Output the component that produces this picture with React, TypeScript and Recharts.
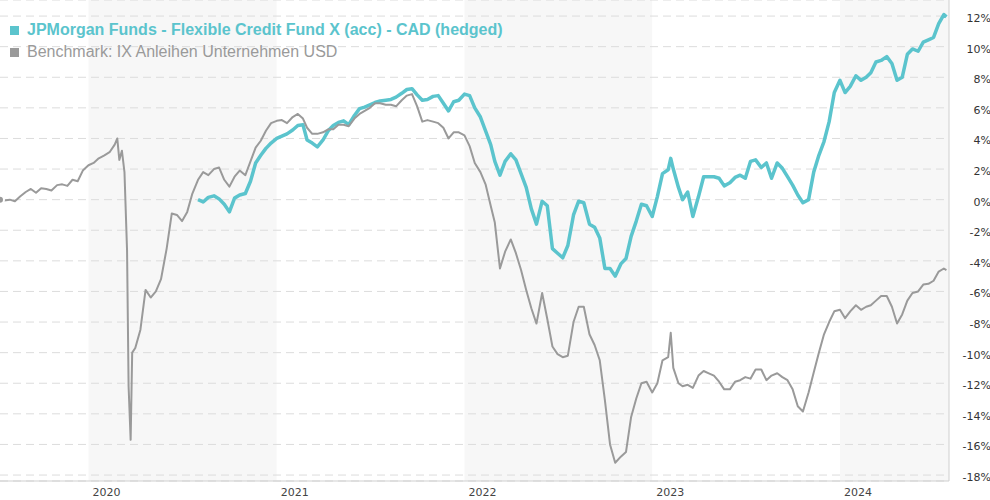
import React from 'react';
import { LineChart, Line, XAxis, YAxis, CartesianGrid, ReferenceArea } from 'recharts';

// sampling dates (roughly 3 per month)
const dates = [
  '2019-07-13', '2019-07-21', '2019-08-01', '2019-08-11', '2019-08-21', '2019-09-01', '2019-09-11', '2019-09-21',
  '2019-10-01', '2019-10-11', '2019-10-21', '2019-11-01', '2019-11-11', '2019-11-21', '2019-12-01', '2019-12-11', '2019-12-21',
  '2020-01-01', '2020-01-11', '2020-01-21', '2020-02-01', '2020-02-11', '2020-02-21', '2020-02-26', '2020-03-01',
  '2020-03-06', '2020-03-11', '2020-03-16', '2020-03-19', '2020-03-23', '2020-03-26', '2020-04-01', '2020-04-11',
  '2020-04-21', '2020-05-01', '2020-05-11', '2020-05-21', '2020-06-01', '2020-06-11', '2020-06-21', '2020-07-01',
  '2020-07-11', '2020-07-21', '2020-08-01', '2020-08-11', '2020-08-21', '2020-09-01', '2020-09-11', '2020-09-21',
  '2020-10-01', '2020-10-11', '2020-10-21', '2020-11-01', '2020-11-11', '2020-11-21', '2020-12-01', '2020-12-11', '2020-12-21',
  '2021-01-01', '2021-01-11', '2021-01-21', '2021-02-01', '2021-02-11', '2021-02-21', '2021-03-01', '2021-03-11', '2021-03-21',
  '2021-04-01', '2021-04-11', '2021-04-21', '2021-05-01', '2021-05-11', '2021-05-21', '2021-06-01', '2021-06-11', '2021-06-21',
  '2021-07-01', '2021-07-11', '2021-07-21', '2021-08-01', '2021-08-11', '2021-08-21', '2021-09-01', '2021-09-11', '2021-09-21',
  '2021-10-01', '2021-10-11', '2021-10-21', '2021-11-01', '2021-11-11', '2021-11-21', '2021-12-01', '2021-12-11', '2021-12-21',
  '2022-01-01', '2022-01-11', '2022-01-21', '2022-02-01', '2022-02-11', '2022-02-21', '2022-03-01', '2022-03-11', '2022-03-21',
  '2022-04-01', '2022-04-11', '2022-04-21', '2022-05-01', '2022-05-11', '2022-05-21', '2022-06-01', '2022-06-11', '2022-06-21',
  '2022-07-01', '2022-07-11', '2022-07-21', '2022-08-01', '2022-08-11', '2022-08-21', '2022-09-01', '2022-09-11', '2022-09-21',
  '2022-10-01', '2022-10-11', '2022-10-21', '2022-11-01', '2022-11-11', '2022-11-21', '2022-12-01', '2022-12-11', '2022-12-21',
  '2023-01-01', '2023-01-11', '2023-01-21', '2023-02-01', '2023-02-06', '2023-02-11', '2023-02-21', '2023-03-01', '2023-03-11', '2023-03-21',
  '2023-04-01', '2023-04-11', '2023-04-21', '2023-05-01', '2023-05-11', '2023-05-21', '2023-06-01', '2023-06-11', '2023-06-21',
  '2023-07-01', '2023-07-11', '2023-07-21', '2023-08-01', '2023-08-11', '2023-08-21', '2023-09-01', '2023-09-11', '2023-09-21',
  '2023-10-01', '2023-10-11', '2023-10-21', '2023-11-01', '2023-11-11', '2023-11-21', '2023-12-01', '2023-12-11', '2023-12-21',
  '2024-01-01', '2024-01-11', '2024-01-21', '2024-02-01', '2024-02-11', '2024-02-21', '2024-03-01', '2024-03-11', '2024-03-21',
  '2024-04-01', '2024-04-11', '2024-04-21', '2024-05-01', '2024-05-11', '2024-05-21', '2024-06-01', '2024-06-11', '2024-06-21',
  '2024-07-01', '2024-07-11', '2024-07-21', '2024-07-26',
];

// Benchmark: IX Anleihen Unternehmen USD (%)
const benchmark = [
  0.0, -0.05, 0.0, -0.1, 0.2, 0.5, 0.7, 0.45,
  0.75, 0.7, 0.6, 0.95, 1.0, 0.9, 1.3, 1.2, 1.9,
  2.25, 2.4, 2.7, 2.9, 3.1, 3.6, 4.0, 2.6,
  3.2, 1.8, -3.3, -12.2, -15.7, -10.0, -9.7, -8.5,
  -5.9, -6.4, -6.0, -5.2, -3.2, -0.9, -1.0, -1.4,
  -0.8, 0.4, 1.3, 1.8, 1.6, 2.0, 2.1, 1.3,
  0.85, 1.5, 1.9, 1.6, 2.5, 3.4, 3.85, 4.5, 5.0,
  5.15, 5.2, 5.0, 5.4, 5.6, 5.3, 4.7, 4.3, 4.3,
  4.4, 4.6, 4.6, 4.9, 4.9, 4.8, 5.3, 5.6, 5.8,
  6.0, 6.3, 6.3, 6.2, 6.2, 6.1, 6.5, 6.8, 6.9,
  6.1, 5.1, 5.2, 5.1, 5.0, 4.7, 4.0, 4.4, 4.4,
  4.2, 3.5, 2.4, 1.8, 1.0, -0.4, -1.5, -4.5, -3.4,
  -2.6, -3.5, -4.6, -5.9, -7.1, -8.1, -6.1, -7.8, -9.6,
  -10.1, -10.3, -10.2, -8.0, -7.0, -7.0, -8.8, -9.5, -10.5,
  -13.1, -16.0, -17.2, -16.8, -16.5, -14.2, -13.0, -12.0, -11.9,
  -12.6, -12.0, -10.5, -10.3, -8.7, -11.0, -12.0, -12.2, -12.1, -12.3,
  -11.5, -11.2, -11.35, -11.5, -11.9, -12.4, -12.4, -11.9, -11.8,
  -11.6, -11.7, -11.1, -11.1, -11.8, -11.5, -11.35, -11.6, -11.8,
  -12.4, -13.5, -13.85, -12.6, -11.3, -10.0, -8.8, -8.0, -7.3,
  -7.2, -7.75, -7.3, -6.9, -7.2, -7.0, -6.9, -6.6, -6.3,
  -6.3, -7.0, -8.1, -7.5, -6.6, -6.1, -6.0, -5.55, -5.5,
  -5.3, -4.7, -4.5, -4.6,
];

// JPMorgan Funds - Flexible Credit Fund X (acc) - CAD (hedged) (%), starts later
const fundStart = '2020-08-01';
const fund = [
  0.0, -0.15, 0.15, 0.25, 0.05, -0.3,
  -0.8, 0.1, 0.3, 0.4, 1.2, 2.4, 2.9, 3.35, 3.7,
  4.0, 4.15, 4.3, 4.55, 4.85, 4.9, 3.9, 3.7, 3.45,
  3.9, 4.5, 4.85, 5.05, 5.15, 4.9, 5.5, 5.95, 6.05,
  6.2, 6.35, 6.45, 6.5, 6.55, 6.7, 6.95, 7.2, 7.25,
  6.85, 6.5, 6.55, 6.75, 6.8, 6.3, 5.8, 6.4, 6.5,
  6.9, 6.8, 6.0, 5.4, 4.5, 3.6, 2.5, 1.6, 2.5,
  3.0, 2.6, 1.7, 0.8, -0.6, -1.6, -0.1, -0.4, -3.2,
  -3.5, -3.8, -3.0, -1.0, -0.1, -0.2, -1.6, -1.8, -2.5,
  -4.5, -4.5, -5.0, -4.2, -3.85, -2.4, -1.4, -0.3, -0.4,
  -1.1, 0.2, 1.7, 1.95, 2.7, 2.0, 0.8, 0.0, 0.5, -1.1,
  0.2, 1.5, 1.5, 1.5, 1.4, 0.9, 1.1, 1.45, 1.6,
  1.4, 2.5, 2.6, 2.1, 2.4, 1.4, 2.4, 2.05, 1.5,
  0.95, 0.3, -0.2, 0.0, 1.8, 2.9, 3.8, 5.1, 7.0,
  7.8, 7.0, 7.4, 8.1, 7.8, 8.0, 8.3, 9.0, 9.1,
  9.35, 8.9, 7.8, 8.0, 9.5, 9.85, 9.7, 10.3, 10.45,
  10.6, 11.5, 12.1, 11.95,
];

const yearTicks = ['2020-01-01', '2021-01-01', '2022-01-01', '2023-01-01', '2024-01-01'];
const shadedYears = [
  ['2020-01-01', '2021-01-01'],
  ['2022-01-01', '2023-01-01'],
  ['2024-01-01', '2024-07-31'],
];
const percentTicks = [-18, -16, -14, -12, -10, -8, -6, -4, -2, 0, 2, 4, 6, 8, 10, 12];
const xRange = ['2019-07-13', '2024-07-31'];

const TEAL = '#5bc4cd';
const GREY = '#9a9a9a';

const fs = dates.indexOf(fundStart);
const data = dates.map((d, i) => ({
  t: Date.parse(d),
  benchmark: benchmark[i],
  fund: i >= fs ? fund[i - fs] : null,
}));

const YearTick = (props: any) => {
  const { x, y, payload } = props;
  return (
    <text x={x + 4} y={y + 13} textAnchor="start" fontSize={11} fontFamily="DejaVu Sans" fill="#444">
      {new Date(payload.value).getUTCFullYear()}
    </text>
  );
};

const PctTick = (props: any) => {
  const { x, y, payload } = props;
  return (
    <text x={x + 40} y={y + 6} textAnchor="end" fontSize={11} fontFamily="DejaVu Sans" fill="#333">
      {payload.value}%
    </text>
  );
};

export default function App() {
  return (
    <div style={{ position: 'absolute', left: 0, top: 0, width: 990, height: 500, background: '#fff' }}>
      <LineChart width={990} height={500} data={data} margin={{ top: 0, right: 0, bottom: 0, left: 0 }}>
        {shadedYears.map(([a, b]) => (
          <ReferenceArea key={a} x1={Date.parse(a)} x2={Date.parse(b)} fill="#000" fillOpacity={0.03} stroke="none" zIndex={-200} ifOverflow="hidden" />
        ))}
        <CartesianGrid vertical={false} stroke="#dcdcdc" strokeDasharray="8 5" />
        <XAxis
          dataKey="t"
          type="number"
          domain={xRange.map((d) => Date.parse(d))}
          allowDataOverflow
          ticks={yearTicks.map((d) => Date.parse(d))}
          tick={<YearTick />}
          tickLine={false}
          tickSize={0}
          axisLine={{ stroke: '#cfcfcf' }}
          height={19}
        />
        <YAxis
          orientation="right"
          type="number"
          domain={[-18.39, 13.05]}
          allowDataOverflow
          ticks={percentTicks}
          tick={<PctTick />}
          tickLine={false}
          tickSize={0}
          axisLine={{ stroke: '#cfcfcf' }}
          width={41}
        />
        <Line type="linear" dataKey="fund" stroke={TEAL} strokeWidth={3.5} dot={false} isAnimationActive={false} strokeLinejoin="round" />
        <Line type="linear" dataKey="benchmark" stroke={GREY} strokeWidth={2} dot={false} isAnimationActive={false} strokeLinejoin="round" />
      </LineChart>
      <div style={{ position: 'absolute', left: 10, top: 19, fontFamily: 'Liberation Sans, Arial, sans-serif', lineHeight: '22px' }}>
        <div style={{ display: 'flex', alignItems: 'center', color: TEAL, fontWeight: 'bold', fontSize: 16 }}>
          <span style={{ display: 'inline-block', width: 9, height: 9, background: TEAL, marginRight: 8 }} />
          JPMorgan Funds - Flexible Credit Fund X (acc) - CAD (hedged)
        </div>
        <div style={{ display: 'flex', alignItems: 'center', color: GREY, fontSize: 16 }}>
          <span style={{ display: 'inline-block', width: 9, height: 9, background: GREY, marginRight: 8 }} />
          Benchmark: IX Anleihen Unternehmen USD
        </div>
      </div>
    </div>
  );
}
